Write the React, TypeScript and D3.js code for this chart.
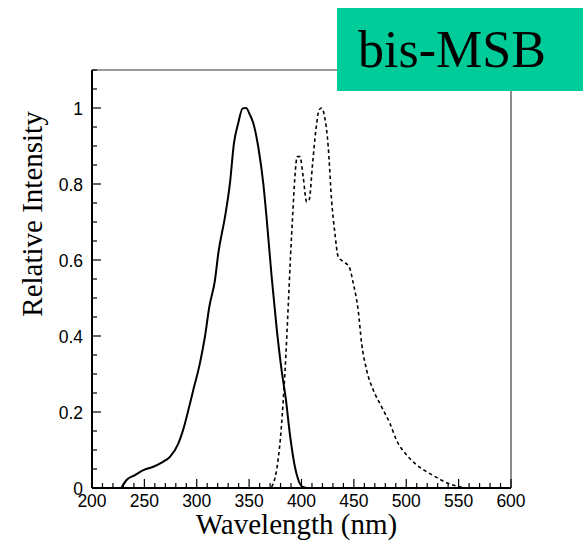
import React from "react";
import * as d3 from "d3";

const absWavelength = [228, 233, 241, 249, 258.5, 266.5, 274.4, 282.4, 287, 292, 296.7, 303, 307.8, 312, 317.4, 320.6, 327, 331.7, 335.5, 339.6, 343.8, 347, 350.8, 354, 358.7, 363.5, 366.7, 371.5, 376.3, 381, 385, 389, 393.7, 397, 401, 405];
const absIntensity = [0, 0.021, 0.034, 0.047, 0.056, 0.067, 0.082, 0.117, 0.153, 0.205, 0.258, 0.328, 0.398, 0.477, 0.547, 0.618, 0.714, 0.802, 0.907, 0.96, 0.999, 1.0, 0.982, 0.96, 0.898, 0.802, 0.71, 0.556, 0.42, 0.31, 0.235, 0.14, 0.056, 0.021, 0.003, 0];

const emWavelength = [371.5, 376.2, 380, 383.2, 385, 387.3, 389.5, 391.5, 393.7, 395.9, 398.5, 401.6, 404.9, 407.3, 410.6, 413.7, 416.9, 419.2, 421.4, 425.5, 428.7, 431.9, 435, 439.8, 445.5, 449.4, 454.1, 457.4, 462.1, 468.5, 476.4, 484.4, 490.7, 500.3, 509.8, 519.3, 528.9, 538.4, 551, 557];
const emIntensity = [0.003, 0.047, 0.135, 0.258, 0.346, 0.477, 0.609, 0.714, 0.819, 0.872, 0.872, 0.819, 0.753, 0.758, 0.854, 0.942, 0.995, 1.0, 0.986, 0.898, 0.758, 0.67, 0.609, 0.596, 0.582, 0.539, 0.468, 0.381, 0.311, 0.258, 0.214, 0.17, 0.126, 0.087, 0.061, 0.043, 0.028, 0.014, 0.003, 0];

const xTickValues = [200, 250, 300, 350, 400, 450, 500, 550, 600];
const yTickValues = [0, 0.2, 0.4, 0.6, 0.8, 1];
const yTickLabels = ["0", "0.2", "0.4", "0.6", "0.8", "1"];
const titleText = "bis-MSB";
const xLabel = "Wavelength (nm)";
const yLabel = "Relative Intensity";

export default function App() {
  const W = 583, H = 540;
  const left = 92, right = 511, top = 70, bottom = 488;
  const x = d3.scaleLinear().domain([200, 600]).range([left, right]);
  const y = d3.scaleLinear().domain([0, 1.1]).range([bottom, top]);

  const line = d3.line<[number, number]>().x(d => x(d[0])).y(d => y(d[1])).curve(d3.curveMonotoneX);
  const absPath = line(absWavelength.map((w, i) => [w, absIntensity[i]] as [number, number])) || "";
  const emPath = line(emWavelength.map((w, i) => [w, emIntensity[i]] as [number, number])) || "";

  const xMinor = d3.range(200, 601, 10);
  const yMinor = d3.range(0, 1.1001, 0.05);

  const tickFont = "'Liberation Sans', Arial, sans-serif";
  const serif = "'Liberation Serif', 'Times New Roman', serif";

  return (
    <div style={{ position: "absolute", left: 0, top: 0 }}>
      <svg width={W} height={H} style={{ display: "block", background: "#fff" }}>
        <line x1={left} y1={top} x2={right} y2={top} stroke="#333" strokeWidth={1} />
        <line x1={right} y1={top} x2={right} y2={bottom} stroke="#666" strokeWidth={1.5} />
        {xMinor.map(v => {
          const major = Math.abs(v % 50) < 1e-6;
          return <line key={"xm" + v} x1={x(v)} x2={x(v)} y1={bottom} y2={bottom - (major ? 9 : 5)} stroke="#000" strokeWidth={1.2} />;
        })}
        {yMinor.map((v, i) => {
          const major = i % 4 === 0;
          return <line key={"ym" + i} x1={left} x2={left + (major ? 9 : 5)} y1={y(v)} y2={y(v)} stroke="#000" strokeWidth={1.2} />;
        })}
        <line x1={left} y1={bottom} x2={right} y2={bottom} stroke="#000" strokeWidth={2} />
        <line x1={left} y1={top} x2={left} y2={bottom} stroke="#000" strokeWidth={2} />
        {xTickValues.map(v => (
          <text key={"xt" + v} x={x(v)} y={bottom + 18.5} textAnchor="middle" fontFamily={tickFont} fontSize={17.5} fill="#000">{v}</text>
        ))}
        {yTickValues.map((v, i) => (
          <text key={"yt" + i} x={left - 9} y={y(v) + 7} textAnchor="end" fontFamily={tickFont} fontSize={17.5} fill="#000">{yTickLabels[i]}</text>
        ))}
        <path d={absPath} fill="none" stroke="#000" strokeWidth={2} strokeLinejoin="round" />
        <path d={emPath} fill="none" stroke="#000" strokeWidth={1.6} strokeDasharray="3.5,3" />
        <text x={296.5} y={534} textAnchor="middle" fontFamily={serif} fontSize={29} fill="#000">{xLabel}</text>
        <text transform={`translate(42,${214}) rotate(-90)`} textAnchor="middle" fontFamily={serif} fontSize={29} fill="#000">{yLabel}</text>
        <rect x={337} y={8} width={246} height={83} fill="#00CC99" />
        <text x={358} y={67} fontFamily={serif} fontSize={52} fill="#000">{titleText}</text>
      </svg>
    </div>
  );
}
